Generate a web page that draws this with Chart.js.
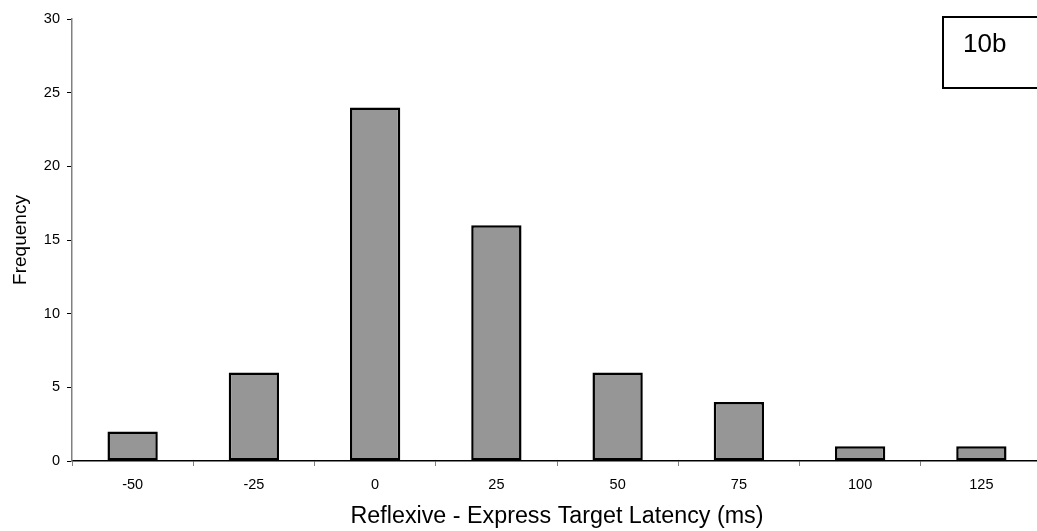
<!DOCTYPE html>
<html>
<head>
<meta charset="utf-8">
<script src="https://cdn.jsdelivr.net/npm/chart.js@4/dist/chart.umd.min.js"></script>
<style>
  html, body { margin: 0; padding: 0; background: #fff; overflow: hidden; }
  #wrap { width: 1042px; height: 531px; }
</style>
</head>
<body>
<div id="wrap"><canvas id="histChart" width="1042" height="531"></canvas></div>
<script>
// latency bins (ms) and counts
const bins = ["-50", "-25", "0", "25", "50", "75", "100", "125"]
const counts = [2, 6, 24, 16, 6, 4, 1, 1]
const yTicks = [0, 5, 10, 15, 20, 25, 30]

const FONT = "'Liberation Sans', Arial, sans-serif"

// panel label box in the top right corner
const panelLabel = {
  id: "panelLabel",
  afterDraw(chart) {
    const ctx = chart.ctx
    ctx.save()
    ctx.strokeStyle = "#000"
    ctx.lineWidth = 2
    ctx.strokeRect(943, 17, 120, 71)
    ctx.fillStyle = "#000"
    ctx.font = "26px " + FONT
    ctx.textBaseline = "alphabetic"
    ctx.fillText("10b", 963, 52)
    ctx.restore()
  }
}

new Chart(document.getElementById("histChart"), {
  type: "bar",
  data: {
    labels: bins,
    datasets: [{
      data: counts,
      backgroundColor: "#969696",
      borderColor: "#000",
      borderWidth: 2.5,
      borderSkipped: false,
      categoryPercentage: 1,
      barPercentage: 0.415
    }]
  },
  options: {
    responsive: false,
    animation: false,
    layout: { padding: { top: 19, right: 0, left: 0, bottom: 0 } },
    plugins: { legend: { display: false }, tooltip: { enabled: false } },
    scales: {
      x: {
        offset: true,
        grid: { display: true, offset: true, drawOnChartArea: false, tickLength: 5, color: "#808080" },
        border: { color: "#000", width: 1.5 },
        ticks: { color: "#000", font: { family: FONT, size: 14.5 }, padding: 10 },
        title: {
          display: true,
          text: "Reflexive - Express Target Latency (ms)",
          color: "#000",
          font: { family: FONT, size: 23.3 },
          padding: { top: 5, bottom: 0 }
        },
        afterFit(scale) { scale.height = 70 }
      },
      y: {
        min: 0,
        max: 30,
        afterBuildTicks(scale) { scale.ticks = yTicks.map(v => ({ value: v })) },
        grid: { display: true, drawOnChartArea: false, tickLength: 5, color: "#000" },
        border: { color: "#808080", width: 1.5 },
        ticks: { color: "#000", font: { family: FONT, size: 14.5 }, padding: 7 },
        title: {
          display: true,
          text: "Frequency",
          color: "#000",
          font: { family: FONT, size: 19 },
          padding: { top: 9, bottom: 0 }
        },
        afterFit(scale) { scale.width = 72 }
      }
    }
  },
  plugins: [panelLabel]
})
</script>
</body>
</html>
